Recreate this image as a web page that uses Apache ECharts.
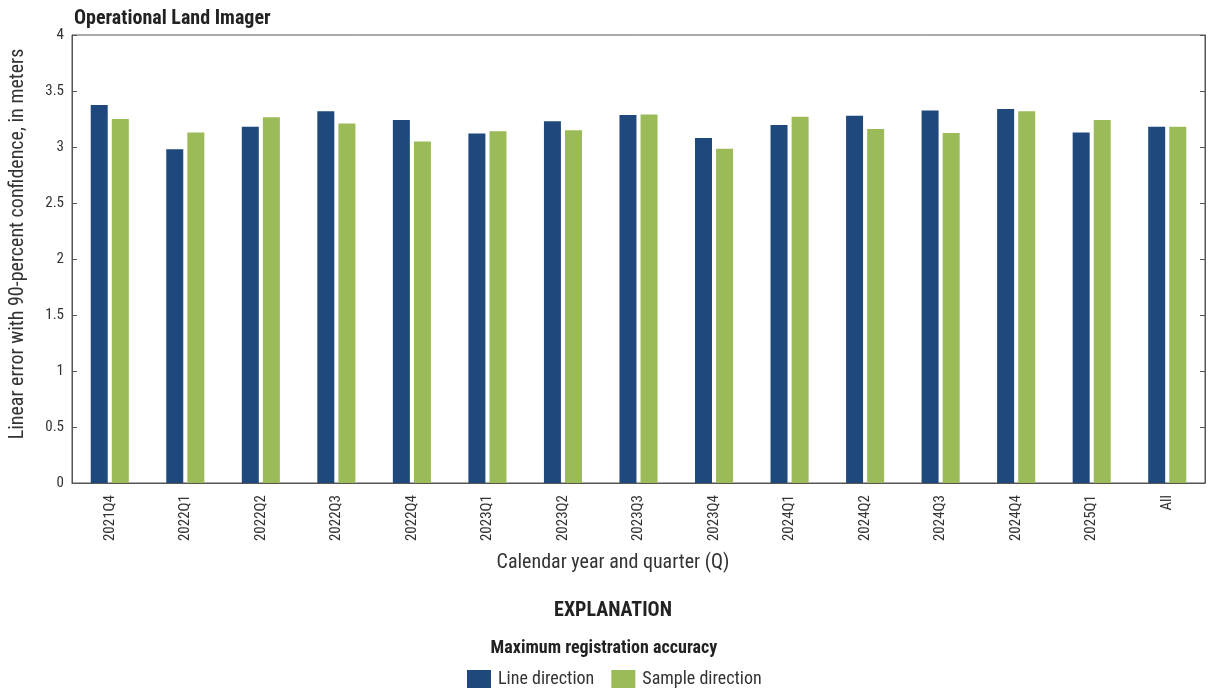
<!DOCTYPE html>
<html><head><meta charset="utf-8">
<script src="https://cdn.jsdelivr.net/npm/echarts@6/dist/echarts.min.js"></script>
<style>html,body{margin:0;padding:0;background:#fff}#c{width:1208px;height:691px}</style>
</head><body><div id="c"></div>
<script>
const categories = ['2021Q4','2022Q1','2022Q2','2022Q3','2022Q4','2023Q1','2023Q2','2023Q3','2023Q4','2024Q1','2024Q2','2024Q3','2024Q4','2025Q1','All'];
const lineDirection = [3.375,2.98,3.18,3.32,3.24,3.12,3.23,3.285,3.08,3.196,3.28,3.325,3.34,3.13,3.18];
const sampleDirection = [3.25,3.13,3.265,3.21,3.05,3.14,3.15,3.29,2.985,3.27,3.16,3.125,3.32,3.24,3.18];
const yTicks = [0,0.5,1,1.5,2,2.5,3,3.5,4];

const FONT = '"Liberation Sans Narrow","Roboto Condensed","Liberation Sans",sans-serif';
const chart = echarts.init(document.getElementById('c'));
chart.setOption({
  animation:false,
  textStyle:{fontFamily:FONT,color:'#222'},
  title:{text:'Operational Land Imager',left:69,top:4,textStyle:{fontFamily:FONT,fontSize:20,fontWeight:'bold',color:'#222'}},
  grid:{left:72,right:3,top:35,bottom:208,show:true,borderColor:'#555',borderWidth:1,containLabel:false,outerBoundsMode:'none'},
  legend:{top:665,left:462,itemWidth:24,itemHeight:18,itemGap:17,icon:'rect',
    textStyle:{fontFamily:FONT,fontSize:18,color:'#333',padding:[0,0,0,2]},
    data:['Line direction','Sample direction']},
  graphic:[
    {type:'text',x:613,y:611,style:{text:'EXPLANATION',font:'bold 20px '+FONT,fill:'#222',textAlign:'center',textVerticalAlign:'middle'}},
    {type:'text',x:604,y:648,style:{text:'Maximum registration accuracy',font:'bold 18px '+FONT,fill:'#222',textAlign:'center',textVerticalAlign:'middle'}},
    {type:'text',x:613,y:563,style:{text:'Calendar year and quarter (Q)',font:'20px '+FONT,fill:'#333',textAlign:'center',textVerticalAlign:'middle'}},
    {type:'text',x:18,y:244,rotation:Math.PI/2,style:{text:'Linear error with 90-percent confidence, in meters',font:'20px '+FONT,fill:'#333',textAlign:'center',textVerticalAlign:'middle'}}
  ],
  xAxis:{type:'category',data:categories,
    axisLine:{lineStyle:{color:'#555'}},axisTick:{show:false},
    axisLabel:{rotate:90,fontSize:15,color:'#333',margin:12,fontFamily:FONT}},
  yAxis:[{type:'value',min:0,max:4,interval:0.5,
    axisLine:{show:true,lineStyle:{color:'#555'}},
    axisTick:{show:true,inside:true,length:5,lineStyle:{color:'#555'}},
    splitLine:{show:false},
    axisLabel:{fontSize:15,color:'#333',margin:8,fontFamily:FONT,
      formatter:v=>yTicks.includes(v)?String(v):''}},
   {type:'value',min:0,max:4,interval:0.5,position:'right',
    axisLine:{show:true,lineStyle:{color:'#555'}},
    axisTick:{show:true,inside:true,length:5,lineStyle:{color:'#555'}},
    splitLine:{show:false},axisLabel:{show:false}}],
  series:[
    {name:'Line direction',type:'bar',data:lineDirection,itemStyle:{color:'#1f497d'},barWidth:17,barGap:'24%'},
    {name:'Sample direction',type:'bar',data:sampleDirection,itemStyle:{color:'#9bbb59'},barWidth:17,barGap:'24%'}
  ]
});
</script></body></html>
